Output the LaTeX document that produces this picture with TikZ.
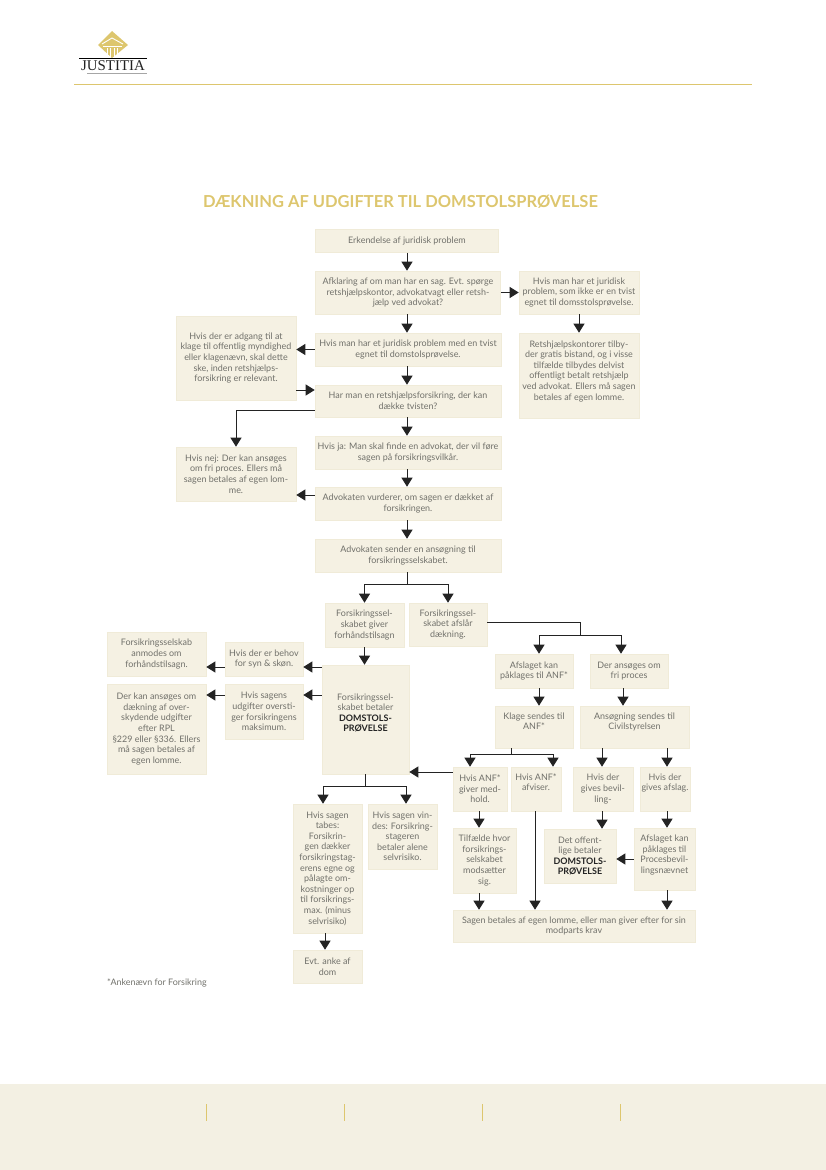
\documentclass[tikz,border=0pt]{standalone}
\usepackage{fontspec}
\setmainfont{Lato}
\newfontfamily\logofont{Liberation Serif}
\usetikzlibrary{arrows.meta, calc}
\definecolor{BG}{RGB}{245,241,227}
\definecolor{BD}{RGB}{240,235,216}
\definecolor{GD}{RGB}{221,198,110}
\definecolor{TX}{RGB}{112,112,106}
\definecolor{DG}{RGB}{35,35,35}
\definecolor{FT}{RGB}{243,240,227}

\begin{document}
\begin{tikzpicture}[
  x=1pt, y=-1pt,
  box/.style={draw=BD, fill=BG, line width=0.6pt, inner sep=0pt, align=center,
              text=TX, font=\fontsize{8.95}{10.6}\selectfont},
  arr/.style={-{Triangle[length=9pt,width=11pt]}, DG, line width=0.9pt},
  lin/.style={DG, line width=0.9pt}
]
\useasboundingbox (0,0) rectangle (826,1170);

% Header with logo
\fill[GD] (112,31) -- (128,45) -- (112,58) -- (98,45) -- cycle;
\draw[white, line width=0.9pt] (102,44) -- (112,38) -- (123,44);
\draw[white, line width=0.9pt] (103,46) -- (122,46);
\foreach \px in {107,110.5,114,117.5}{
  \draw[white, line width=0.8pt] (\px,48) -- (\px,58);
}
\draw[black, line width=0.8pt] (79,58) -- (147,58);
\node[inner sep=0pt, text=DG, font=\logofont\fontsize{14.9}{15}\selectfont] (logo) at (113,66) {JUSTITIA};
\draw[gray!70, line width=1pt] (87,73) -- (147,73);
\draw[GD, line width=0.9pt] (74,84.5) -- (752,84.5);

% Title
\node[inner sep=0pt, text=GD, font=\fontsize{16.5}{18}\bfseries\selectfont] (title) at (400.5,202)
  {DÆKNING AF UDGIFTER TIL DOMSTOLSPRØVELSE};

% Top column
\node[box, minimum width=183, minimum height=23] (erk) at (407,241) {Erkendelse af juridisk problem};
\node[box, minimum width=185, minimum height=43] (afk) at (408,292.5)
  {Afklaring af om man har en sag. Evt. spørge\\retshjælpskontor, advokatvagt eller retsh-\\jælp ved advokat?};
\node[box, minimum width=186, minimum height=33] (tvist) at (408,349.5)
  {Hvis man har et juridisk problem med en tvist\\egnet til domstolsprøvelse.};
\node[box, minimum width=186, minimum height=32] (har) at (408,401)
  {Har man en retshjælpsforsikring, der kan\\dække tvisten?};
\node[box, minimum width=186, minimum height=33] (hja) at (408,452.5)
  {Hvis ja: Man skal finde en advokat, der vil føre\\sagen på forsikringsvilkår.};
\node[box, minimum width=186, minimum height=33] (vur) at (408,503.5)
  {Advokaten vurderer, om sagen er dækket af\\forsikringen.};
\node[box, minimum width=186, minimum height=33] (send) at (408,555.5)
  {Advokaten sender en ansøgning til\\forsikringsselskabet.};

% Side boxes at the top
\node[box, minimum width=120, minimum height=43] (ikke) at (579,292.5)
  {Hvis man har et juridisk\\problem, som ikke er en tvist\\egnet til domsstolsprøvelse.};
\node[box, minimum width=120, minimum height=85] (kontor) at (579,375.5)
  {Retshjælpskontorer tilby-\\der gratis bistand, og i visse\\tilfælde tilbydes delvist\\offentligt betalt retshjælp\\ved advokat. Ellers må sagen\\betales af egen lomme.\\[-3.5pt]\strut};
\node[box, minimum width=120, minimum height=84] (klage) at (236,358)
  {Hvis der er adgang til at\\klage til offentlig myndighed\\eller klagenævn, skal dette\\ske, inden retshjælps-\\forsikring er relevant.};
\node[box, minimum width=120, minimum height=54] (nej) at (236,474)
  {Hvis nej: Der kan ansøges\\om fri proces. Ellers må\\sagen betales af egen lom-\\me.};

% Left part
\node[box, minimum width=79, minimum height=44] (giver) at (364.5,625)
  {Forsikringssel-\\skabet giver\\forhåndstilsagn};
\node[box, minimum width=78, minimum height=43] (afslar) at (448,624.5)
  {Forsikringssel-\\skabet afslår\\dækning.};
\node[box, minimum width=87, minimum height=109] (bet) at (365.5,719.5)
  {Forsikringssel-\\skabet betaler\\\textcolor{DG}{\textbf{DOMSTOLS-}}\\\textcolor{DG}{\textbf{PRØVELSE}}\\\strut};
\node[box, minimum width=78, minimum height=34] (behov) at (264,659)
  {Hvis der er behov\\for syn \& skøn.};
\node[box, minimum width=78, minimum height=55] (udg) at (264,711.5)
  {Hvis sagens\\udgifter oversti-\\ger forsikringens\\maksimum.};
\node[box, minimum width=99, minimum height=44] (anm) at (156.5,654)
  {Forsikringsselskab\\anmodes om\\forhåndstilsagn.};
\node[box, minimum width=99, minimum height=90] (over) at (156.5,729)
  {Der kan ansøges om\\dækning af over-\\skydende udgifter\\efter RPL\\§229 eller §336. Ellers\\må sagen betales af\\egen lomme.};
\node[box, minimum width=69, minimum height=129] (tab) at (327.5,868.5)
  {Hvis sagen\\tabes:\\Forsikrin-\\gen dækker\\forsikringstag-\\erens egne og\\pålagte om-\\kostninger op\\til forsikrings-\\max. (minus\\selvrisiko)};
\node[box, minimum width=69, minimum height=65] (vin) at (402.5,836.5)
  {Hvis sagen vin-\\des: Forsikring-\\stageren\\betaler alene\\selvrisiko.};
\node[box, minimum width=69, minimum height=33] (evt) at (327.5,966.5)
  {Evt. anke af\\dom};
\node[inner sep=0pt, anchor=west, text=TX, font=\fontsize{8.95}{10.6}\selectfont] (note) at (107,982.5)
  {*Ankenævn for Forsikring};

% Right part
\node[box, minimum width=78, minimum height=34] (afp) at (534,671)
  {Afslaget kan\\påklages til ANF*};
\node[box, minimum width=78, minimum height=34] (fri) at (629,671)
  {Der ansøges om\\fri proces};
\node[box, minimum width=78, minimum height=42] (klg) at (534,727)
  {Klage sendes til\\ANF*\\[-2.5pt]\strut};
\node[box, minimum width=109, minimum height=42] (ans) at (634.5,727)
  {Ansøgning sendes til\\Civilstyrelsen\\[-2.5pt]\strut};
\node[box, minimum width=54, minimum height=44] (med) at (480,789)
  {Hvis ANF*\\giver med-\\hold.};
\node[box, minimum width=50, minimum height=44] (afv) at (536,789)
  {Hvis ANF*\\afviser.\\\strut};
\node[box, minimum width=60, minimum height=44] (bev) at (603,789)
  {Hvis der\\gives bevil-\\ling-};
\node[box, minimum width=50, minimum height=44] (afg) at (665,789)
  {Hvis der\\gives afslag.\\\strut};
\node[box, minimum width=63, minimum height=65] (tilf) at (484.5,860.5)
  {Tilfælde hvor\\forsikrings-\\selskabet\\modsætter\\sig.};
\node[box, minimum width=72, minimum height=54] (off) at (580,856)
  {Det offent-\\lige betaler\\\textcolor{DG}{\textbf{DOMSTOLS-}}\\\textcolor{DG}{\textbf{PRØVELSE}}};
\node[box, minimum width=61, minimum height=62] (pak) at (664.5,859)
  {Afslaget kan\\påklages til\\Procesbevil-\\lingsnævnet\\[-4pt]\strut};
\node[box, minimum width=242, minimum height=32] (sag) at (574,926)
  {Sagen betales af egen lomme, eller man giver efter for sin\\modparts krav};

% Straight arrows in the top column
\draw[arr] (erk.south) -- (afk.north -| erk.south);
\draw[arr] (afk.south -| erk.south) -- (tvist.north -| erk.south);
\draw[arr] (tvist.south -| erk.south) -- (har.north -| erk.south);
\draw[arr] (har.south -| erk.south) -- (hja.north -| erk.south);
\draw[arr] (hja.south -| erk.south) -- (vur.north -| erk.south);
\draw[arr] (vur.south -| erk.south) -- (send.north -| erk.south);
\draw[arr] (afk.east) -- (ikke.west);
\draw[arr] (ikke.south) -- (kontor.north);
\draw[arr] (tvist.west) -- (klage.east |- tvist.west);
\draw[arr] (klage.east |- 0,390) -- (har.west |- 0,390);
\draw[arr] (har.west |- 0,410) -| (nej.north);
\draw[arr] (vur.west |- 0,495) -- (nej.east |- 0,495);

% Fork below the application
\coordinate (sfork) at (407,584);
\draw[lin] (send.south -| sfork) -- (sfork);
\draw[arr] (sfork) -| (giver.north);
\draw[arr] (sfork) -| (afslar.north);

% Left part arrows
\draw[arr] (giver.south) -- (bet.north -| giver.south);
\draw[arr] (bet.west |- 0,667) -- (behov.east |- 0,667);
\draw[arr] (behov.west |- 0,667) -- (anm.east |- 0,667);
\draw[arr] (bet.west |- 0,695) -- (udg.east |- 0,695);
\draw[arr] (udg.west |- 0,695) -- (over.east |- 0,695);
\coordinate (bfork) at (365,786);
\draw[lin] (bet.south -| bfork) -- (bfork);
\draw[arr] (bfork) -| (tab.north -| 323,0);
\draw[arr] (bfork) -| (vin.north -| 406,0);
\draw[arr] (tab.south -| 325,0) -- (evt.north -| 325,0);

% Right part arrows
\coordinate (afork) at (580.5,635);
\draw[lin] (afslar.east |- 0,622) -| (afork);
\draw[arr] (afork) -| (afp.north -| 539,0);
\draw[arr] (afork) -| (fri.north -| 621,0);
\draw[arr] (afp.south -| 539,0) -- (klg.north -| 539,0);
\draw[arr] (fri.south -| 623,0) -- (ans.north -| 623,0);
\coordinate (kfork) at (511,754);
\draw[lin] (klg.south -| kfork) -- (kfork);
\draw[arr] (kfork) -| (med.north -| 470,0);
\draw[arr] (kfork) -| (afv.north -| 553,0);
\draw[arr] (ans.south -| 602,0) -- (bev.north -| 602,0);
\draw[arr] (ans.south -| 667,0) -- (afg.north -| 667,0);
\draw[arr] (med.west |- 0,772) -- (bet.east |- 0,772);
\draw[arr] (med.south -| 479,0) -- (tilf.north -| 479,0);
\draw[arr] (afv.south -| 535,0) -- (sag.north -| 535,0);
\draw[arr] (bev.south -| 602,0) -- (off.north -| 602,0);
\draw[arr] (afg.south -| 667,0) -- (pak.north -| 667,0);
\draw[arr] (pak.west |- 0,859) -- (off.east |- 0,859);
\draw[arr] (tilf.south -| 479,0) -- (sag.north -| 479,0);
\draw[arr] (pak.south -| 667,0) -- (sag.north -| 667,0);

% Footer band
\fill[FT] (0,1084) rectangle (826,1170);
\foreach \px in {206,344,482,620}{
  \draw[GD, line width=0.7pt] (\px,1104) -- (\px,1120.5);
}
\end{tikzpicture}
\end{document}
